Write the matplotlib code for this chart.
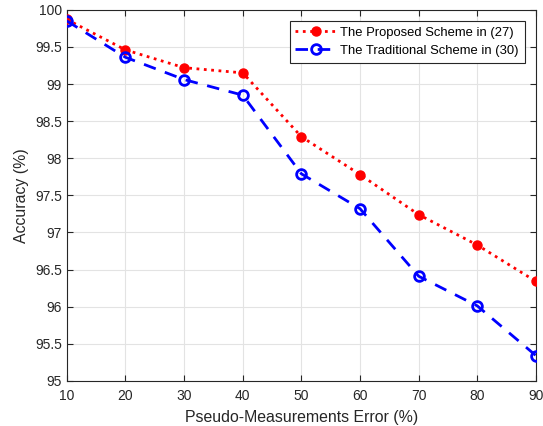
import matplotlib.pyplot as plt
import numpy as np

plt.rcParams['font.family'] = ['Liberation Sans', 'DejaVu Sans']

# data
errors = [10, 20, 30, 40, 50, 60, 70, 80, 90]
proposed = [99.87, 99.46, 99.22, 99.15, 98.29, 97.78, 97.24, 96.83, 96.34]
traditional = [99.85, 99.36, 99.06, 98.85, 97.79, 97.32, 96.41, 96.01, 95.34]

fig = plt.figure(figsize=(5.43, 4.26), dpi=100)
ax = fig.add_axes([0.123, 0.106, 0.864, 0.871])

ax.plot(errors, proposed, color='red', linestyle=':', linewidth=2,
        marker='o', markersize=6.5, markerfacecolor='red', markeredgecolor='red',
        label='The Proposed Scheme in (27)', zorder=3)
ax.plot(errors, traditional, color='blue', linestyle=(0, (4.5, 3.5)), linewidth=2,
        marker='o', markersize=7, markerfacecolor='none', markeredgecolor='blue',
        markeredgewidth=2, label='The Traditional Scheme in (30)', zorder=3)

ax.set_xlim(10, 90)
ax.set_ylim(95, 100)
ax.set_xticks(np.arange(10, 91, 10))
ax.set_yticks(np.arange(95, 100.01, 0.5))
ax.set_yticklabels(['95', '95.5', '96', '96.5', '97', '97.5', '98', '98.5', '99', '99.5', '100'])

ax.grid(True, color='#e3e3e3', linewidth=0.8)
ax.set_axisbelow(True)
for s in ax.spines.values():
    s.set_color('#262626')
    s.set_linewidth(0.8)
ax.tick_params(direction='in', top=True, right=True, length=4, labelsize=10,
               colors='#262626', labelcolor='#262626')
ax.tick_params(axis='x', pad=6)

ax.set_xlabel('Pseudo-Measurements Error (%)', fontsize=11.4, color='#262626', labelpad=5)
ax.set_ylabel('Accuracy (%)', fontsize=11.4, color='#262626')

leg = ax.legend(loc='upper right', fontsize=9.4, fancybox=False, framealpha=1,
                edgecolor='#262626', borderpad=0.45, labelspacing=0.45,
                handlelength=3.2, handletextpad=0.25, borderaxespad=0.85)
leg.get_frame().set_linewidth(0.8)

fig.savefig('out.png', dpi=100)
